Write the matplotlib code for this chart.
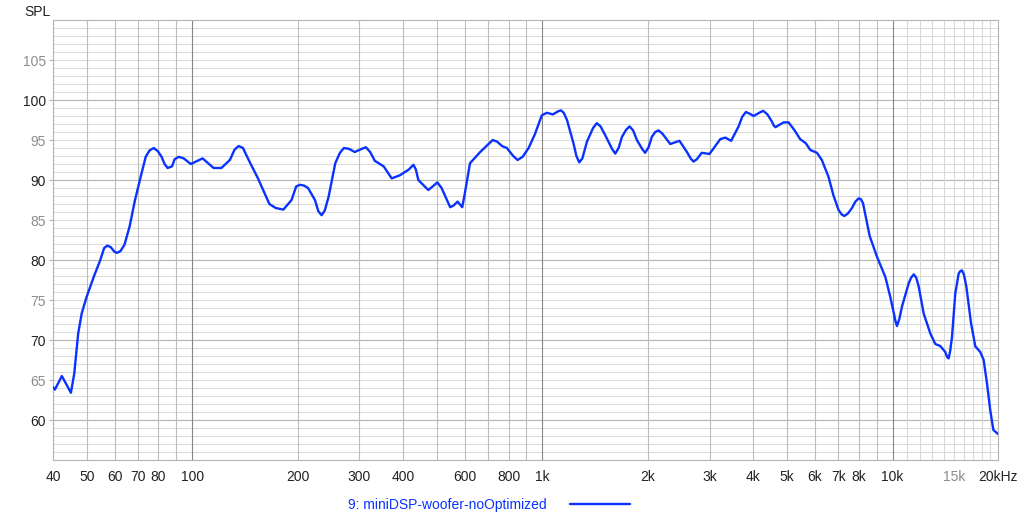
import matplotlib
matplotlib.use("Agg")
import matplotlib.pyplot as plt
from matplotlib.ticker import FixedLocator, NullFormatter

plt.rcParams['font.family'] = ['Liberation Sans', 'DejaVu Sans']
plt.rcParams['font.size'] = 10

freq = [40, 40.5, 42.4, 45, 46, 47.2, 48.3, 49.9, 52.3, 54.6, 56, 57.2, 58.5,
        60, 61, 62.3, 64, 66.2, 68.6, 71.2, 73.6, 75.5, 77.6, 79.7, 81.7, 83.3,
        85, 87.5, 89, 91.5, 94.5, 99, 107, 115, 121, 128, 132, 135.6, 139.5,
        146, 154, 166, 173, 182, 192, 198, 203, 208.5, 214, 224, 229, 234, 239,
        245, 256, 264, 271, 280, 291, 305, 313, 322, 332, 352, 371, 392, 415,
        428, 435, 442, 472, 489, 501, 515, 545, 557, 572, 590, 600, 621, 664,
        705, 721, 742, 766, 791, 825, 849, 878, 913, 953, 996, 1030, 1071, 1110,
        1130, 1150, 1175, 1226, 1250, 1274, 1300, 1340, 1395, 1430, 1465, 1511,
        1580, 1614, 1650, 1687, 1735, 1773, 1815, 1861, 1925, 1964, 2010, 2053,
        2100, 2145, 2200, 2317, 2462, 2586, 2650, 2700, 2760, 2851, 2999, 3219,
        3327, 3458, 3632, 3720, 3810, 3900, 4008, 4160, 4270, 4390, 4522, 4580,
        4630, 4750, 4884, 5046, 5240, 5447, 5650, 5821, 6081, 6279, 6560, 6775,
        7007, 7150, 7280, 7450, 7655, 7830, 7998, 8120, 8232, 8600, 9025, 9530,
        9848, 10200, 10290, 10450, 10640, 11120, 11300, 11490, 11680, 11870,
        12270, 12820, 13240, 13680, 14140, 14300, 14450, 14600, 14780, 15100,
        15440, 15600, 15780, 15980, 16240, 16750, 17230, 17800, 18200, 18600,
        19000, 19400, 20000]
spl = [64.1, 63.8, 65.5, 63.4, 65.8, 70.8, 73.3, 75.4, 77.9, 80.0, 81.5, 81.8,
       81.6, 81.0, 80.9, 81.1, 81.9, 84.2, 87.5, 90.4, 92.9, 93.7, 94.0, 93.6,
       92.9, 92.0, 91.5, 91.7, 92.6, 92.9, 92.7, 92.0, 92.7, 91.5, 91.5, 92.5,
       93.8, 94.25, 94.0, 92.2, 90.2, 87.0, 86.5, 86.3, 87.5, 89.2, 89.4, 89.3,
       89.0, 87.5, 86.1, 85.6, 86.2, 87.9, 92.1, 93.4, 94.0, 93.9, 93.5, 93.9,
       94.1, 93.5, 92.4, 91.7, 90.2, 90.6, 91.3, 91.9, 91.3, 90.0, 88.75, 89.3,
       89.7, 89.0, 86.6, 86.8, 87.3, 86.6, 88.3, 92.1, 93.5, 94.6, 95.0, 94.8,
       94.25, 94.0, 93.0, 92.5, 92.9, 94.0, 95.8, 98.1, 98.4, 98.2, 98.6, 98.7,
       98.4, 97.5, 94.6, 93.0, 92.2, 92.7, 94.8, 96.5, 97.1, 96.7, 95.6, 93.9,
       93.3, 94.0, 95.4, 96.3, 96.7, 96.2, 95.0, 93.9, 93.4, 94.1, 95.4, 96.0,
       96.2, 95.8, 94.5, 94.9, 93.5, 92.7, 92.3, 92.6, 93.4, 93.25, 95.1, 95.3,
       94.9, 96.7, 97.9, 98.5, 98.3, 98.0, 98.4, 98.65, 98.2, 97.3, 96.8, 96.6,
       96.9, 97.2, 97.2, 96.25, 95.1, 94.6, 93.75, 93.4, 92.5, 90.4, 88.1,
       86.25, 85.7, 85.5, 85.8, 86.5, 87.3, 87.7, 87.6, 87.1, 83.0, 80.4, 77.9,
       75.4, 72.3, 71.75, 72.6, 74.2, 77.1, 77.8, 78.2, 77.8, 76.7, 73.3, 70.8,
       69.5, 69.25, 68.5, 67.9, 67.7, 68.6, 70.4, 75.8, 78.3, 78.6, 78.7, 78.2,
       76.7, 72.1, 69.2, 68.5, 67.5, 64.6, 61.25, 58.75, 58.25]

x_ticks = [40, 50, 60, 70, 80, 100, 200, 300, 400, 600, 800, 1000, 2000, 3000,
           4000, 5000, 6000, 7000, 8000, 10000, 15000, 20000]
x_labels = ['40', '50', '60', '70', '80', '100', '200', '300', '400', '600',
            '800', '1k', '2k', '3k', '4k', '5k', '6k', '7k', '8k', '10k', '15k',
            '20kHz']
y_ticks = [60, 65, 70, 75, 80, 85, 90, 95, 100, 105]
series_name = '9: miniDSP-woofer-noOptimized'

blue = '#0a32ff'

fig = plt.figure(figsize=(10.24, 5.2), dpi=100)
ax = fig.add_axes([53 / 1024, 1 - 460 / 520, 945 / 1024, 440 / 520])
ax.set_xscale('log')
ax.set_xlim(40, 20000)
ax.set_ylim(55, 110)

# grid: 1 dB rows, darker every 10 dB; 1-2-...-9 columns, darker per decade
for db in range(56, 110):
    c = '#b4b4b4' if db % 10 == 0 else '#dcdcdc'
    ax.axhline(db, color=c, lw=0.8, zorder=0)
for dec in [10, 100, 1000]:
    for m in range(2, 10):
        f = dec * m
        if 40 <= f < 20000:
            ax.axvline(f, color='#bdbdbd', lw=0.8, zorder=1)
for f in [100, 1000, 10000]:
    ax.axvline(f, color='#858585', lw=0.8, zorder=1)
for f in range(11000, 20000, 1000):
    ax.axvline(f, color='#dadada', lw=0.8, zorder=0.5)

ax.plot(freq, spl, color=blue, lw=1.7, zorder=3, label=series_name,
        solid_joinstyle='round', solid_capstyle='round')

ax.xaxis.set_major_locator(FixedLocator(x_ticks))
ax.set_xticklabels(x_labels)
ax.xaxis.set_minor_formatter(NullFormatter())
ax.tick_params(axis='x', which='both', length=0, pad=7, labelsize=10,
               labelcolor='#222222')
for lbl in ax.get_xticklabels():
    if lbl.get_text() == '15k':
        lbl.set_color('#8c8c8c')

ax.set_yticks(y_ticks)
ax.tick_params(axis='y', length=3, color='#b4b4b4', pad=2, labelsize=10)
for lbl, v in zip(ax.get_yticklabels(), y_ticks):
    lbl.set_color('#222222' if v % 10 == 0 else '#8c8c8c')

for s in ax.spines.values():
    s.set_color('#b4b4b4')
    s.set_linewidth(0.8)

fig.text(24 / 1024, 1 - 12 / 520, 'SPL', fontsize=10, color='#222222',
         va='center', ha='left')

ax.legend(loc='center', bbox_to_anchor=(489 / 1024, 1 - 505 / 520),
          bbox_transform=fig.transFigure, frameon=False, markerfirst=False,
          handlelength=4.3, handletextpad=1.7, labelcolor=blue, fontsize=10)

fig.savefig('out.png', dpi=100)
